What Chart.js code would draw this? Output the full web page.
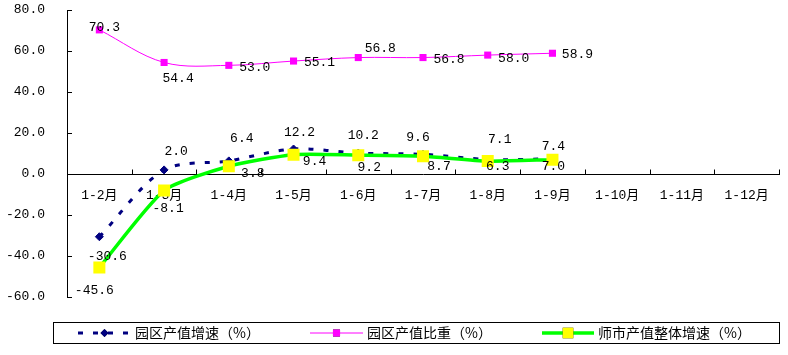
<!DOCTYPE html>
<html><head><meta charset="utf-8">
<script src="https://cdn.jsdelivr.net/npm/chart.js@4.4.0/dist/chart.umd.min.js"></script>
<style>html,body{margin:0;padding:0;background:#fff;}#wrap{width:788px;height:355px;position:relative;}</style>
</head><body><div id="wrap"><canvas id="c" width="788" height="355"></canvas></div>
<script>
const categories = ['1-2月','1-3月','1-4月','1-5月','1-6月','1-7月','1-8月','1-9月','1-10月','1-11月','1-12月'];
const parkGrowth = [-30.6, 2.0, 6.4, 12.2, 10.2, 9.6, 7.1, 7.4];
const parkShare = [70.3, 54.4, 53.0, 55.1, 56.8, 56.8, 58.0, 58.9];
const cityGrowth = [-45.6, -8.1, 3.8, 9.4, 9.2, 8.7, 6.3, 7.0];
const seriesNames = ['园区产值增速（%）', '园区产值比重（%）', '师市产值整体增速（%）'];
const yMin = -60, yMax = 80, yStep = 20;

const NUM_FONT = "13px 'Liberation Mono', 'Noto Sans CJK SC', monospace";
const CJK_FONT = "14px 'Noto Sans CJK SC', sans-serif";

const labelPlugin = {
  id: 'pointLabels',
  afterDatasetsDraw(chart, args, opts) {
    const ctx = chart.ctx;
    ctx.save();
    ctx.font = NUM_FONT;
    ctx.fillStyle = '#000';
    ctx.textAlign = 'center';
    ctx.textBaseline = 'middle';
    chart.data.datasets.forEach((ds, i) => {
      const meta = chart.getDatasetMeta(i);
      const offs = opts.offsets[i];
      meta.data.forEach((pt, j) => {
        const v = ds.data[j];
        if (v === null || v === undefined) return;
        const o = offs[j] || [0, -12];
        ctx.fillText(v.toFixed(1), pt.x + o[0], pt.y + o[1]);
      });
    });
    ctx.restore();
  }
};

const axisTickPlugin = {
  id: 'innerTicks',
  afterDraw(chart) {
    const ctx = chart.ctx, y = chart.scales.y, ca = chart.chartArea;
    ctx.save();
    ctx.strokeStyle = '#000';
    ctx.lineWidth = 1;
    ctx.beginPath();
    y.ticks.forEach(t => {
      const py = Math.round(y.getPixelForValue(t.value)) + 0.5;
      ctx.moveTo(ca.left, py); ctx.lineTo(ca.left + 5, py);
    });
    const zy = Math.round(y.getPixelForValue(0)) + 0.5;
    const n = categories.length;
    for (let k = 1; k <= n; k++) {
      const px = Math.round(ca.left + (ca.right - ca.left) * k / n) + 0.5;
      ctx.moveTo(px, zy); ctx.lineTo(px, zy - 5);
    }
    ctx.stroke();
    ctx.restore();
  }
};

const legendPlugin = {
  id: 'customLegend',
  afterDraw(chart, args, opts) {
    const ctx = chart.ctx;
    ctx.save();
    ctx.strokeStyle = '#000';
    ctx.lineWidth = 1;
    ctx.strokeRect(53.5, 322.5, 726, 21);
    const cy = 333;
    const items = opts.items;
    chart.data.datasets.forEach((ds, i) => {
      const it = items[i];
      ctx.save();
      ctx.strokeStyle = ds.borderColor;
      ctx.lineWidth = ds.borderWidth;
      ctx.setLineDash(ds.borderDash || []);
      ctx.beginPath();
      ctx.moveTo(it.x0, cy); ctx.lineTo(it.x1, cy);
      ctx.stroke();
      ctx.setLineDash([]);
      Chart.helpers.drawPoint(ctx, {
        pointStyle: ds.pointStyle, radius: it.r, rotation: 0,
        borderWidth: 0
      }, (it.x0 + it.x1) / 2, cy);
      ctx.fillStyle = ds.pointBackgroundColor;
      ctx.fill();
      ctx.restore();
      ctx.font = CJK_FONT;
      ctx.fillStyle = '#000';
      ctx.textAlign = 'left';
      ctx.textBaseline = 'middle';
      ctx.fillText(seriesNames[i], it.tx, cy);
    });
    ctx.restore();
  }
};

new Chart(document.getElementById('c'), {
  type: 'line',
  data: {
    labels: categories,
    datasets: [
      {
        label: seriesNames[0], data: parkGrowth,
        borderColor: '#000080', borderWidth: 3, borderDash: [5, 10],
        pointStyle: 'rectRot', pointRadius: 4, pointBackgroundColor: '#000080',
        pointBorderColor: '#000080', pointBorderWidth: 1,
        tension: 0.3, order: 1
      },
      {
        label: seriesNames[1], data: parkShare,
        borderColor: '#ff00ff', borderWidth: 1,
        pointStyle: 'rect', pointRadius: 5, pointBackgroundColor: '#ff00ff',
        pointBorderWidth: 0,
        tension: 0.35, order: 2
      },
      {
        label: seriesNames[2], data: cityGrowth,
        borderColor: '#00ff00', borderWidth: 3.5,
        pointStyle: 'rect', pointRadius: 8.5, pointBackgroundColor: '#ffff00',
        pointBorderWidth: 0,
        tension: 0.2, order: 0
      }
    ]
  },
  options: {
    responsive: false,
    animation: false,
    events: [],
    layout: { padding: { left: 0, top: 10, right: 9, bottom: 58 } },
    plugins: {
      legend: { display: false },
      tooltip: { enabled: false },
      pointLabels: {
        offsets: [
          [[8,20],[12,-18],[13,-22],[6,-16],[5,-18],[-5,-17],[12,-20],[1,-12]],
          [[5,-2],[14,16],[26,2],[26,2],[22,-9],[26,2],[26,3],[25,1]],
          [[-5,23],[4,18],[24,7],[21,7],[11,12],[16,10],[10,5],[1,7]]
        ]
      },
      customLegend: {
        items: [
          { x0: 78, x1: 131, r: 4, tx: 135 },
          { x0: 310, x1: 363, r: 5, tx: 367 },
          { x0: 542, x1: 594, r: 7.5, tx: 598 }
        ]
      }
    },
    scales: {
      x: {
        type: 'category',
        position: { y: 0 },
        offset: true,
        grid: { display: false, drawTicks: false, offset: true },
        border: { display: true, color: '#000', width: 1 },
        ticks: { font: { family: "'Liberation Mono', 'Noto Sans CJK SC'", size: 13 }, color: '#000', padding: 14, maxRotation: 0, autoSkip: false }
      },
      y: {
        min: yMin, max: yMax,
        afterFit(scale) { scale.width = 67; scale.paddingTop = 6; scale.paddingBottom = 6; },
        grid: { display: false, drawTicks: false },
        border: { display: true, color: '#000', width: 1 },
        ticks: { stepSize: yStep, font: { family: "'Liberation Mono'", size: 13 }, color: '#000', padding: 22,
          callback: v => Number(v).toFixed(1) }
      }
    }
  },
  plugins: [labelPlugin, axisTickPlugin, legendPlugin]
});
</script>
</body></html>
